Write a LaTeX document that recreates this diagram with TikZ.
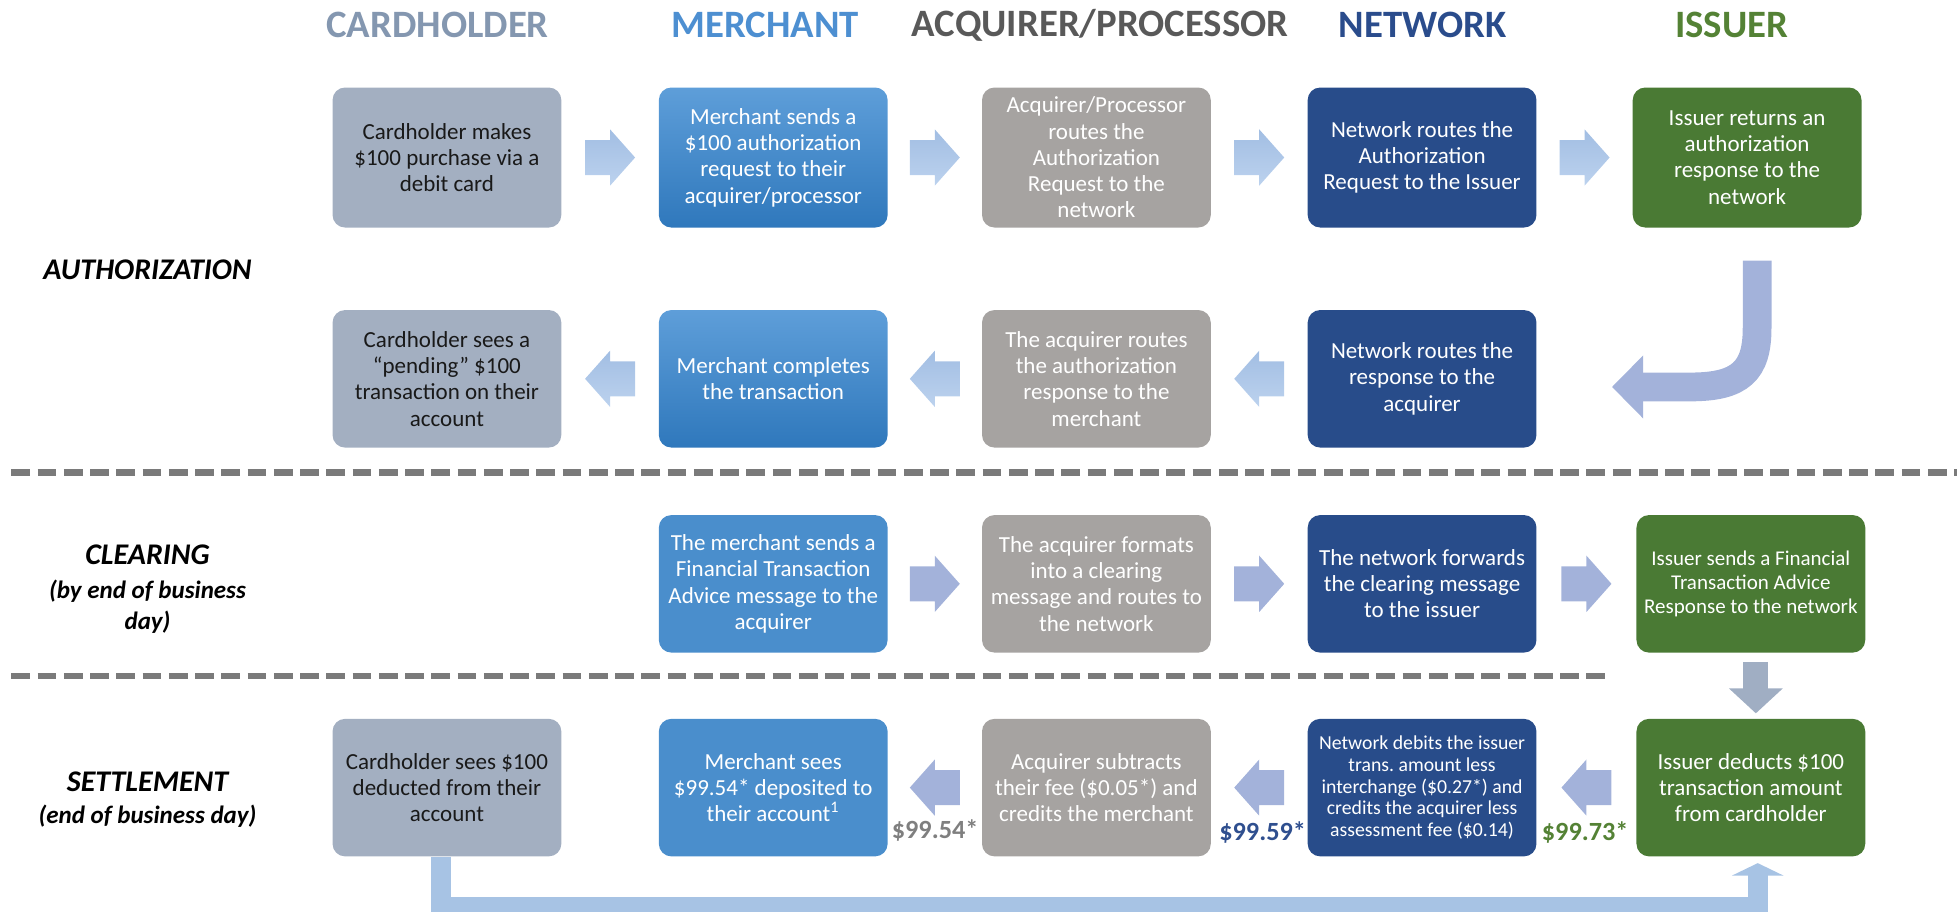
\documentclass[tikz,border=0pt]{standalone}
\usepackage{fontspec}
\setmainfont{Carlito}
\usetikzlibrary{arrows.meta,calc}
\definecolor{chbox}{HTML}{A3AFC1}
\definecolor{mtop}{HTML}{5E9ED9}
\definecolor{mbot}{HTML}{2F78BC}
\definecolor{mflat}{HTML}{4A8ECC}
\definecolor{acbox}{HTML}{A6A3A1}
\definecolor{nwbox}{HTML}{284C8A}
\definecolor{isbox}{HTML}{4A7A34}
\definecolor{hch}{HTML}{8497B0}
\definecolor{hme}{HTML}{4D8FD1}
\definecolor{hac}{HTML}{595959}
\definecolor{hnw}{HTML}{2A4C8C}
\definecolor{his}{HTML}{548235}
\definecolor{arrtop}{HTML}{A2BEE3}
\definecolor{arrbot}{HTML}{BCD2EE}
\definecolor{arrflat}{HTML}{A3B2DA}
\definecolor{dnarr}{HTML}{A0AEC3}
\definecolor{botarr}{HTML}{A7C3E4}
\definecolor{dashcol}{HTML}{7A7A7A}
\definecolor{lbgray}{HTML}{7F7F7F}
\definecolor{lbblue}{HTML}{2F4F8F}
\definecolor{lbgreen}{HTML}{548235}
\begin{document}
\begin{tikzpicture}[x=0.5pt,y=-0.5pt,
  box/.style={rounded corners=5pt, minimum width=91.5pt, minimum height=55pt, inner sep=0pt, align=center, text=white, font=\fontsize{9.2}{10.5}\selectfont},
  tall/.style={minimum height=56pt},
  chb/.style={box, fill=chbox, text=black!90},
  meg/.style={box, top color=mtop, bottom color=mbot},
  mef/.style={box, fill=mflat},
  acb/.style={box, fill=acbox},
  nwb/.style={box, fill=nwbox},
  isb/.style={box, fill=isbox},
  head/.style={font=\bfseries\fontsize{15.5}{18}\selectfont},
  phase/.style={font=\bfseries\itshape\fontsize{12}{14}\selectfont},
  phasesub/.style={font=\bfseries\itshape\fontsize{10}{12.5}\selectfont},
  amount/.style={font=\bfseries\fontsize{10.5}{12}\selectfont},
  sep/.style={line width=2.5pt, dashcol, dash pattern=on 7.5pt off 3pt},
  rarr/.pic={\path[pic actions] (-20,-14) -- (0,-14) -- (0,-22.5) -- (20,0) -- (0,22.5) -- (0,14) -- (-20,14) -- cycle;},
  larr/.pic={\path[pic actions] (20,-14) -- (0,-14) -- (0,-22.5) -- (-20,0) -- (0,22.5) -- (0,14) -- (20,14) -- cycle;},
  skyarr/.style={top color=arrtop, bottom color=arrbot},
  flatarr/.style={fill=arrflat},
]
\useasboundingbox (0,0) rectangle (1567,729);

% column headers
\node[head, text=hch] (hC) at (350,20) {CARDHOLDER};
\node[head, text=hme] (hM) at (612,20) {MERCHANT};
\node[head, text=hac] (hA) at (880,20) {ACQUIRER/PROCESSOR};
\node[head, text=hnw] (hN) at (1138,20) {NETWORK};
\node[head, text=his] (hI) at (1385,20) {ISSUER};

% phase labels
\node[phase] (pA) at (118,216) {AUTHORIZATION};
\node[phase] (pC) at (118,444) {CLEARING};
\node[phasesub, align=center] (pC2) at (118,485) {(by end of business\\day)};
\node[phase] (pS) at (118,625) {SETTLEMENT};
\node[phasesub] (pS2) at (118,653) {(end of business day)};

% authorization row 1
\node[chb, tall] (a1) at (357.5,126) {Cardholder makes\\\$100 purchase via a\\debit card};
\node[meg, tall] (a2) at (618.5,126) {Merchant sends a\\\$100 authorization\\request to their\\acquirer/processor};
\node[acb, tall] (a3) at (877,126) {Acquirer/Processor\\routes the\\Authorization\\Request to the\\network};
\node[nwb, tall] (a4) at (1137.5,126) {Network routes the\\Authorization\\Request to the Issuer};
\node[isb, tall] (a5) at (1397.5,126) {Issuer returns an\\authorization\\response to the\\network};

% authorization row 2
\node[chb] (b1) at (357.5,303) {Cardholder sees a\\``pending'' \$100\\transaction on their\\account};
\node[meg] (b2) at (618.5,303) {Merchant completes\\the transaction};
\node[acb] (b3) at (877,303) {The acquirer routes\\the authorization\\response to the\\merchant};
\node[nwb] (b4) at (1137.5,303) {Network routes the\\response to the\\acquirer};

% clearing
\node[mef] (c2) at (618.5,467) {The merchant sends a\\Financial Transaction\\Advice message to the\\acquirer};
\node[acb] (c3) at (877,467) {The acquirer formats\\into a clearing\\message and routes to\\the network};
\node[nwb] (c4) at (1137.5,467) {The network forwards\\the clearing message\\to the issuer};
\node[isb, font=\fontsize{8.4}{9.6}\selectfont] (c5) at (1400.5,467) {Issuer sends a Financial\\Transaction Advice\\Response to the network};

% settlement
\node[chb] (s1) at (357.5,630) {Cardholder sees \$100\\deducted from their\\account};
\node[mef] (s2) at (618.5,630) {Merchant sees\\\$99.54* deposited to\\their account\textsuperscript{1}};
\node[acb] (s3) at (877,630) {Acquirer subtracts\\their fee (\$0.05*) and\\credits the merchant};
\node[nwb, font=\fontsize{7.9}{8.7}\selectfont] (s4) at (1137.5,630) {Network debits the issuer\\trans.\ amount less\\interchange (\$0.27*) and\\credits the acquirer less\\assessment fee (\$0.14)};
\node[isb] (s5) at (1400.5,630) {Issuer deducts \$100\\transaction amount\\from cardholder};

% separators
\draw[sep] (9,378) -- (1565,378);
\draw[sep] (9,541) -- (1287,541);

% block arrows row 1
\pic[skyarr] at ($(a1.east)!0.5!(a2.west)$) {rarr};
\pic[skyarr] at ($(a2.east)!0.5!(a3.west)$) {rarr};
\pic[skyarr] at ($(a3.east)!0.5!(a4.west)$) {rarr};
\pic[skyarr] at ($(a4.east)!0.5!(a5.west)$) {rarr};
% row 2
\pic[skyarr] at ($(b1.east)!0.5!(b2.west)$) {larr};
\pic[skyarr] at ($(b2.east)!0.5!(b3.west)$) {larr};
\pic[skyarr] at ($(b3.east)!0.5!(b4.west)$) {larr};
% clearing
\pic[flatarr] at ($(c2.east)!0.5!(c3.west)$) {rarr};
\pic[flatarr] at ($(c3.east)!0.5!(c4.west)$) {rarr};
\pic[flatarr] at ($(c4.east)!0.5!(c5.west)$) {rarr};
% settlement
\pic[flatarr] at ($(s2.east)!0.5!(s3.west)$) {larr};
\pic[flatarr] at ($(s3.east)!0.5!(s4.west)$) {larr};
\pic[flatarr] at ($(s4.east)!0.5!(s5.west)$) {larr};

% curved arrow issuer -> network response
\coordinate (cvs) at ($(a5.south)+(8,26)$);
\coordinate (cve) at ($(b4.east)+(60,6.5)$);
\draw[line width=11.5pt, arrflat, -{Triangle[width=24.5pt,length=12.5pt]}]
  (cvs) -- ++(0,54) .. controls +(0,34) and +(40,0) .. ($(cve)+(63,0)$) -- (cve);

% down arrow clearing -> settlement issuer
\draw[line width=10pt, dnarr, -{Triangle[width=21pt,length=10pt]}]
  ($(c5.south)+(4,7)$) -- ($(s5.north)+(4,-4)$);

% bottom connector cardholder -> issuer
\draw[line width=8pt, botarr, -{Triangle[width=20.5pt,length=5pt]}]
  ($(s1.south)+(-4.5,0)$) -- ++(0,40) -| ($(s5.south)+(5.5,5)$);

% amounts
\node[amount, text=lbgray] (m1) at (748,664) {\$99.54*};
\node[amount, text=lbblue] (m2) at (1010,666) {\$99.59*};
\node[amount, text=lbgreen] (m3) at (1268,666) {\$99.73*};
\end{tikzpicture}
\end{document}
